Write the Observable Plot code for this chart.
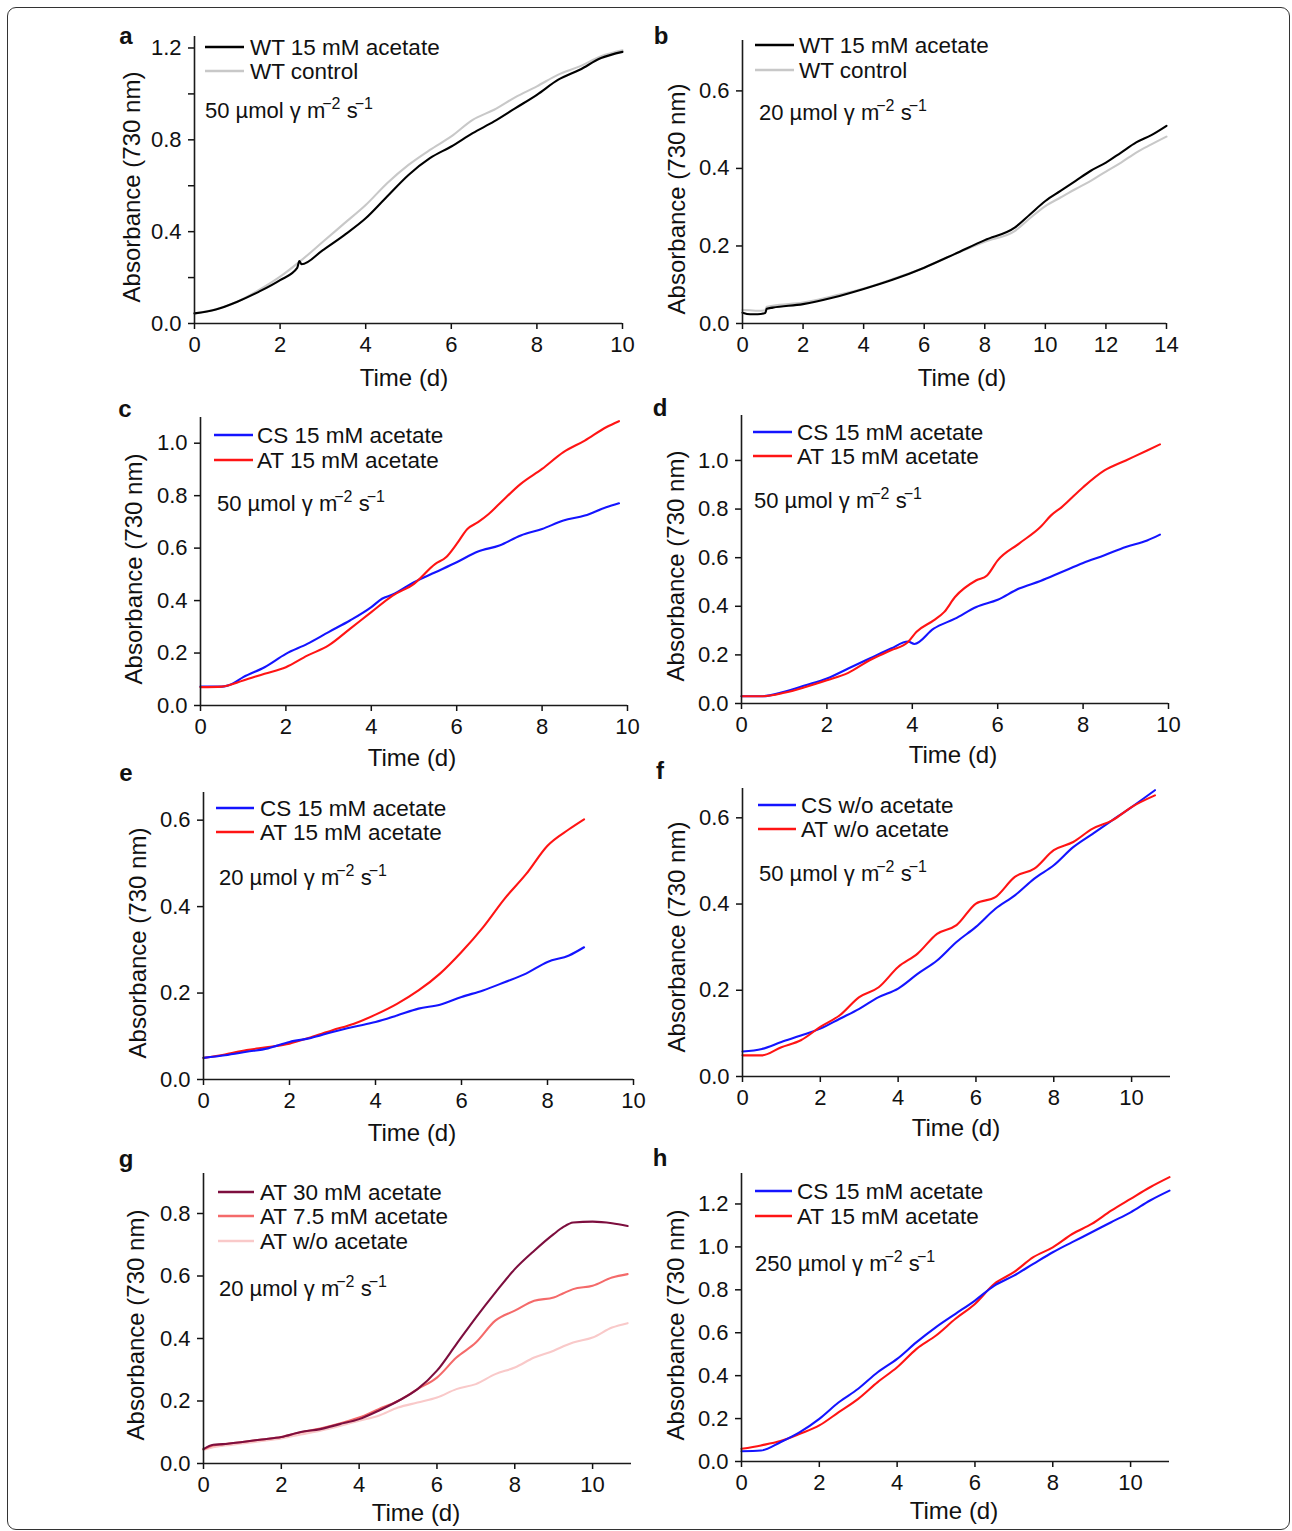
<!DOCTYPE html>
<html><head><meta charset="utf-8">
<script src="https://cdn.jsdelivr.net/npm/d3@7"></script>
<script src="https://cdn.jsdelivr.net/npm/@observablehq/plot@0.6"></script>
<style>
body{margin:0;background:#fff;}
#page{position:relative;width:1292px;height:1531px;background:#fff;overflow:hidden;font-family:"Liberation Sans",Arial,Helvetica,sans-serif;}
#border{position:absolute;left:7px;top:7px;width:1283px;height:1523px;border:1px solid #333;border-radius:9px;box-sizing:border-box;}
.panel{position:absolute;}
</style></head><body><div id="page"><div id="border"></div></div>
<script>
// ---------------- DATA ----------------
// Panel a (50 µmol, WT)
const aTimeWT = [0,0.5,1,1.5,2,2.4,2.45,2.5,3,3.5,4,4.5,5,5.5,6,6.5,7,7.5,8,8.5,9,9.5,10];
const aWT15   = [0.044,0.061,0.095,0.138,0.189,0.242,0.272,0.258,0.32,0.385,0.458,0.553,0.647,0.72,0.771,0.829,0.88,0.938,0.996,1.062,1.105,1.156,1.183];
const aTimeCtrl = [0,0.5,1,1.5,2,2.5,3,3.5,4,4.5,5,5.5,6,6.5,7,7.5,8,8.5,9,9.5,10];
const aCtrl     = [0.044,0.062,0.095,0.145,0.204,0.276,0.356,0.436,0.516,0.611,0.691,0.756,0.815,0.887,0.931,0.986,1.033,1.084,1.12,1.164,1.19];
// Panel b (20 µmol, WT)
const bTime = [0,0.25,0.5,0.75,0.8,1,2,3,4,5,6,7,8,9,9.5,10,10.5,11,11.5,12,12.5,13,13.5,14];
const bWT15 = [0.028,0.024,0.024,0.027,0.038,0.041,0.05,0.067,0.089,0.114,0.144,0.179,0.215,0.248,0.282,0.316,0.342,0.368,0.394,0.415,0.441,0.467,0.486,0.51];
const bCtrl = [0.035,0.034,0.033,0.034,0.043,0.046,0.054,0.071,0.09,0.116,0.144,0.179,0.211,0.239,0.272,0.303,0.325,0.347,0.368,0.392,0.415,0.441,0.462,0.482];
// Panel c (50 µmol, 15 mM)
const cTimeCS = [0,0.5,0.75,1,1.5,2,2.5,3,3.5,4,4.25,4.5,5,5.5,6,6.5,7,7.5,8,8.5,9,9.5,9.8];
const cCS     = [0.072,0.072,0.083,0.108,0.146,0.197,0.235,0.28,0.324,0.375,0.407,0.423,0.47,0.508,0.546,0.587,0.61,0.648,0.673,0.705,0.724,0.756,0.771];
const cTimeAT = [0,0.5,1,1.5,2,2.5,3,3.5,4,4.5,5,5.5,5.75,6,6.25,6.5,6.75,7,7.5,8,8.5,9,9.5,9.8];
const cAT     = [0.07,0.072,0.095,0.121,0.146,0.19,0.229,0.292,0.356,0.419,0.464,0.54,0.565,0.616,0.673,0.699,0.73,0.769,0.845,0.902,0.966,1.01,1.061,1.084];
// Panel d (50 µmol, 15 mM)
const dTimeCS = [0,0.5,1,1.5,2,2.5,3,3.5,3.9,4.05,4.5,5,5.5,6,6.5,7,7.5,8,8.5,9,9.5,9.8];
const dCS     = [0.03,0.03,0.048,0.075,0.103,0.144,0.185,0.226,0.255,0.245,0.308,0.349,0.397,0.427,0.473,0.504,0.541,0.578,0.61,0.644,0.671,0.695];
const dTimeAT = [0,0.5,1,1.5,2,2.5,3,3.5,3.9,4.1,4.5,4.75,5,5.5,5.75,6,6.5,7,7.25,7.5,8,8.5,9,9.5,9.8];
const dAT     = [0.03,0.03,0.044,0.068,0.096,0.126,0.178,0.219,0.253,0.295,0.342,0.377,0.438,0.507,0.527,0.589,0.658,0.726,0.774,0.808,0.89,0.959,1.0,1.041,1.066];
// Panel e (20 µmol, 15 mM)
const eTime = [0,0.5,1,1.5,2,2.5,3,3.5,4,4.5,5,5.5,6,6.5,7,7.5,8,8.5,8.85];
const eCS   = [0.05,0.056,0.064,0.072,0.087,0.096,0.11,0.122,0.133,0.148,0.164,0.173,0.191,0.206,0.225,0.245,0.272,0.287,0.306];
const eAT   = [0.05,0.058,0.068,0.075,0.083,0.098,0.114,0.129,0.15,0.175,0.206,0.245,0.295,0.352,0.418,0.475,0.541,0.579,0.602];
// Panel f (50 µmol, w/o acetate)
const fTime = [0,0.5,1,1.5,2,2.5,3,3.5,4,4.5,5,5.5,6,6.5,7,7.5,8,8.5,9,9.5,10,10.6];
const fCS   = [0.058,0.064,0.08,0.095,0.111,0.134,0.157,0.184,0.204,0.238,0.269,0.312,0.347,0.389,0.42,0.459,0.49,0.532,0.563,0.594,0.625,0.664];
const fAT   = [0.049,0.049,0.068,0.084,0.115,0.142,0.184,0.207,0.254,0.285,0.331,0.351,0.401,0.416,0.463,0.482,0.525,0.544,0.575,0.594,0.625,0.652];
// Panel g (20 µmol, AT different acetate)
const gTime = [0,0.25,0.5,1,1.5,2,2.5,3,3.5,4,4.5,5,5.5,6,6.5,7,7.5,8,8.5,9,9.25,9.5,10,10.5,10.9];
const gAT30 = [0.046,0.06,0.062,0.069,0.077,0.085,0.101,0.11,0.126,0.142,0.169,0.2,0.238,0.297,0.382,0.467,0.547,0.622,0.681,0.734,0.757,0.771,0.774,0.769,0.76];
const gAT75 = [0.046,0.058,0.062,0.069,0.077,0.085,0.1,0.112,0.128,0.147,0.174,0.2,0.238,0.275,0.339,0.387,0.457,0.489,0.521,0.531,0.545,0.558,0.569,0.595,0.606];
const gAT0  = [0.043,0.052,0.057,0.064,0.072,0.08,0.093,0.105,0.12,0.137,0.153,0.179,0.195,0.211,0.238,0.254,0.286,0.307,0.339,0.361,0.375,0.387,0.403,0.435,0.449];
// Panel h (250 µmol, 15 mM)
const hTime = [0,0.5,1,1.5,2,2.5,3,3.5,4,4.5,5,5.5,6,6.5,7,7.5,8,8.5,9,9.5,10,10.5,11];
const hCS   = [0.048,0.051,0.09,0.137,0.199,0.276,0.339,0.416,0.478,0.556,0.626,0.688,0.75,0.82,0.866,0.921,0.975,1.022,1.068,1.115,1.161,1.216,1.262];
const hAT   = [0.059,0.075,0.095,0.129,0.168,0.23,0.292,0.37,0.439,0.525,0.587,0.665,0.734,0.828,0.882,0.952,0.998,1.06,1.107,1.169,1.224,1.278,1.325];

const panelLetters = ["a","b","c","d","e","f","g","h"];
const lightIntensity = ["50","20","50","50","20","50","20","250"];
const xTicks10 = [0,2,4,6,8,10];
const xTicks14 = [0,2,4,6,8,10,12,14];
const yLabel = "Absorbance (730 nm)";
const xLabel = "Time (d)";

// ---------------- COLORS ----------------
const C = {black:"#000000", gray:"#c8c8c8", blue:"#1414ff", red:"#ff1414", maroon:"#7d0e3e", salmon:"#f46a6a", pink:"#f9c9c9"};

const ser = (t, v, name, color) => ({data: t.map((x,i)=>({t:x, v:v[i]})), name, color});

const panels = [
  {X0:194,X1:622,T:36,B:323,xmax:10,ymax:1.25,xticks:xTicks10,yticks:[0,0.2,0.4,0.6,0.8,1.0,1.2],ylab:[0,0.4,0.8,1.2],
   series:[ser(aTimeCtrl,aCtrl,"WT control",C.gray), ser(aTimeWT,aWT15,"WT 15 mM acetate",C.black)],
   legend:[["WT 15 mM acetate",C.black],["WT control",C.gray]],
   leg:{x1:205,x2:244,tx:250,rows:[47,71]}, ann:[205,110], letter:[126,35], yl:[131,187], xl:[404,377]},
  {X0:742,X1:1166,T:40,B:323,xmax:14,ymax:0.73,xticks:xTicks14,yticks:[0,0.2,0.4,0.6],ylab:[0,0.2,0.4,0.6],
   series:[ser(bTime,bCtrl,"WT control",C.gray), ser(bTime,bWT15,"WT 15 mM acetate",C.black)],
   legend:[["WT 15 mM acetate",C.black],["WT control",C.gray]],
   leg:{x1:755,x2:794,tx:799,rows:[45,70]}, ann:[759,112], letter:[661,35], yl:[676,199], xl:[962,377]},
  {X0:200,X1:627,T:417,B:705,xmax:10,ymax:1.098,xticks:xTicks10,yticks:[0,0.2,0.4,0.6,0.8,1.0],ylab:[0,0.2,0.4,0.6,0.8,1.0],
   series:[ser(cTimeCS,cCS,"CS",C.blue), ser(cTimeAT,cAT,"AT",C.red)],
   legend:[["CS 15 mM acetate",C.blue],["AT 15 mM acetate",C.red]],
   leg:{x1:214,x2:253,tx:257,rows:[435,460]}, ann:[217,503], letter:[125,408], yl:[133,569], xl:[412,757]},
  {X0:741,X1:1168,T:415,B:703,xmax:10,ymax:1.185,xticks:xTicks10,yticks:[0,0.2,0.4,0.6,0.8,1.0],ylab:[0,0.2,0.4,0.6,0.8,1.0],
   series:[ser(dTimeCS,dCS,"CS",C.blue), ser(dTimeAT,dAT,"AT",C.red)],
   legend:[["CS 15 mM acetate",C.blue],["AT 15 mM acetate",C.red]],
   leg:{x1:753,x2:792,tx:797,rows:[432,456]}, ann:[754,500], letter:[660,407], yl:[675,566], xl:[953,754]},
  {X0:203,X1:633,T:792,B:1079,xmax:10,ymax:0.664,xticks:xTicks10,yticks:[0,0.2,0.4,0.6],ylab:[0,0.2,0.4,0.6],
   series:[ser(eTime,eAT,"AT",C.red), ser(eTime,eCS,"CS",C.blue)],
   legend:[["CS 15 mM acetate",C.blue],["AT 15 mM acetate",C.red]],
   leg:{x1:216,x2:254,tx:260,rows:[808,832]}, ann:[219,877], letter:[126,772], yl:[137,943], xl:[412,1132]},
  {X0:742,X1:1170,T:788,B:1076,xmax:11,ymax:0.668,xticks:xTicks10,yticks:[0,0.2,0.4,0.6],ylab:[0,0.2,0.4,0.6],
   series:[ser(fTime,fCS,"CS",C.blue), ser(fTime,fAT,"AT",C.red)],
   legend:[["CS w/o acetate",C.blue],["AT w/o acetate",C.red]],
   leg:{x1:758,x2:796,tx:801,rows:[805,829]}, ann:[759,873], letter:[660,770], yl:[676,937], xl:[956,1127]},
  {X0:203,X1:631,T:1173,B:1463,xmax:11,ymax:0.928,xticks:xTicks10,yticks:[0,0.2,0.4,0.6,0.8],ylab:[0,0.2,0.4,0.6,0.8],
   series:[ser(gTime,gAT0,"AT0",C.pink), ser(gTime,gAT75,"AT75",C.salmon), ser(gTime,gAT30,"AT30",C.maroon)],
   legend:[["AT 30 mM acetate",C.maroon],["AT 7.5 mM acetate",C.salmon],["AT w/o acetate",C.pink]],
   leg:{x1:218,x2:254,tx:260,rows:[1192,1216,1241]}, ann:[219,1288], letter:[126,1158], yl:[135,1325], xl:[416,1512]},
  {X0:741,X1:1169,T:1173,B:1461,xmax:11,ymax:1.342,xticks:xTicks10,yticks:[0,0.2,0.4,0.6,0.8,1.0,1.2],ylab:[0,0.2,0.4,0.6,0.8,1.0,1.2],
   series:[ser(hTime,hAT,"AT",C.red), ser(hTime,hCS,"CS",C.blue)],
   legend:[["CS 15 mM acetate",C.blue],["AT 15 mM acetate",C.red]],
   leg:{x1:755,x2:792,tx:797,rows:[1191,1216]}, ann:[755,1263], letter:[660,1157], yl:[675,1325], xl:[954,1510]}
];

const FONT = '"Liberation Sans", Arial, Helvetica, sans-serif';
const ML=95, MR=25, MT=30, MB=62;
const page = document.getElementById("page");

panels.forEach((p, i) => {
  const fw = p.X1 - p.X0, fh = p.B - p.T;
  const svg = Plot.plot({
    width: fw + ML + MR, height: fh + MT + MB,
    marginLeft: ML, marginRight: MR, marginTop: MT, marginBottom: MB,
    style: {background: "transparent", overflow: "visible", fontFamily: FONT, color: "#111"},
    x: {domain: [0, p.xmax]},
    y: {domain: [0, p.ymax]},
    marks: [
      Plot.axisX({ticks: p.xticks, tickSize: 6, tickPadding: 7, fontSize: 22, strokeWidth: 1.5, label: null, tickFormat: d => String(d)}),
      Plot.axisY({ticks: p.yticks, tickSize: 6, tickPadding: 7, fontSize: 22, strokeWidth: 1.5, label: null,
                  tickFormat: d => p.ylab.some(v => Math.abs(v - d) < 1e-9) ? d.toFixed(1) : ""}),
      ...p.series.map(s => Plot.line(s.data, {x: "t", y: "v", stroke: s.color, strokeWidth: 2.1, curve: "monotone-x"})),
      Plot.ruleX([0], {stroke: "#1a1a1a", strokeWidth: 1.6}),
      Plot.ruleY([0], {stroke: "#1a1a1a", strokeWidth: 1.6})
    ]
  });
  const left = p.X0 - ML, top = p.T - MT;
  svg.classList.add("panel");
  svg.style.left = left + "px";
  svg.style.top = top + "px";
  page.appendChild(svg);

  const g = d3.select(svg).append("g").attr("font-family", FONT).attr("fill", "#111").attr("text-anchor", "start");
  const sx = x => x - left, sy = y => y - top;
  // panel letter
  g.append("text").attr("x", sx(p.letter[0])).attr("y", sy(p.letter[1])).attr("text-anchor", "middle")
    .attr("dominant-baseline", "central").attr("font-weight", "bold").attr("font-size", 24).text(panelLetters[i]);
  // y label
  g.append("text").attr("transform", `translate(${sx(p.yl[0])},${sy(p.yl[1])}) rotate(-90)`)
    .attr("text-anchor", "middle").attr("dominant-baseline", "central").attr("font-size", 24).text(yLabel);
  // x label
  g.append("text").attr("x", sx(p.xl[0])).attr("y", sy(p.xl[1])).attr("text-anchor", "middle")
    .attr("dominant-baseline", "central").attr("font-size", 24).text(xLabel);
  // legend
  p.legend.forEach(([lab, col], k) => {
    const y = sy(p.leg.rows[k]);
    g.append("line").attr("x1", sx(p.leg.x1)).attr("x2", sx(p.leg.x2)).attr("y1", y).attr("y2", y)
      .attr("stroke", col).attr("stroke-width", 2.6);
    g.append("text").attr("x", sx(p.leg.tx)).attr("y", y).attr("text-anchor", "start").attr("dominant-baseline", "central")
      .attr("font-size", 22.5).text(lab);
  });
  // light annotation
  const t = g.append("text").attr("x", sx(p.ann[0])).attr("y", sy(p.ann[1]) + 8).attr("text-anchor", "start").attr("font-size", 22);
  t.append("tspan").text(lightIntensity[i] + " µmol γ m");
  t.append("tspan").attr("dy", -9).attr("dx", -3).attr("font-size", 16).text("−2");
  t.append("tspan").attr("dy", 9).attr("font-size", 22).text(" s");
  t.append("tspan").attr("dy", -9).attr("dx", -3).attr("font-size", 16).text("−1");
});
</script></body></html>
